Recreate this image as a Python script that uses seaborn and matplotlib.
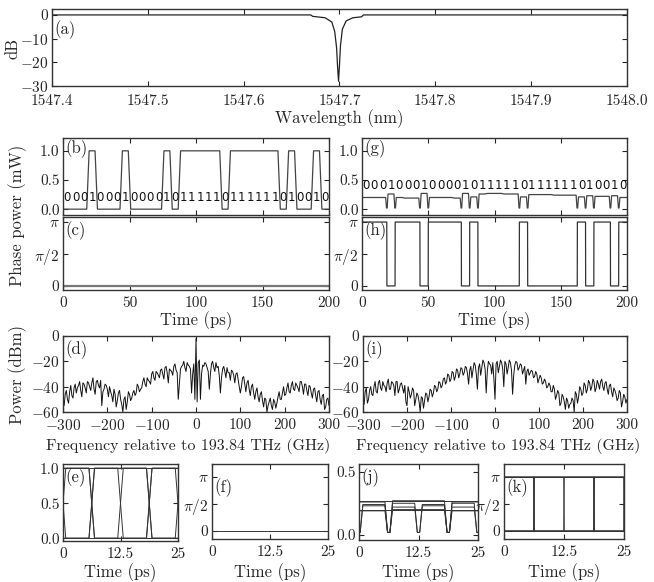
import numpy as np
import pandas as pd
import matplotlib
matplotlib.use("Agg")
import matplotlib.pyplot as plt
import seaborn as sns

# ---- data ----
# (a) filter transmission
wl = [1547.40, 1547.670, 1547.672, 1547.685, 1547.692, 1547.695, 1547.697, 1547.698,
      1547.699, 1547.700, 1547.701, 1547.703, 1547.707, 1547.714, 1547.723, 1547.725, 1548.00]
trans_db = [0, 0, -0.6, -1.2, -3, -7, -14, -22, -28, -21, -13, -6, -2.5, -1.2, -0.8, 0, 0]

# 32-bit pattern over 200 ps
bits = [0, 0, 0, 1, 0, 0, 0, 1, 0, 0, 0, 0, 1, 0, 1, 1, 1, 1, 1, 0, 1, 1, 1, 1, 1, 1, 0, 1, 0, 0, 1, 0]
# (g) converted power level per bit (mW)
g_levels = [0.20, 0.20, 0.20, 0.26, 0.20, 0.19, 0.19, 0.27, 0.20, 0.20, 0.20, 0.19, 0.27, 0.21, 0.26, 0.27,
            0.27, 0.26, 0.26, 0.21, 0.25, 0.25, 0.25, 0.24, 0.24, 0.24, 0.21, 0.23, 0.22, 0.22, 0.23, 0.20]
g_dip = 0.02

# eye diagrams: bit words seen in a 25 ps window (bit before, 4 bits, bit after)
eye_words = [[0, 0, 0, 0, 0, 0], [1, 1, 1, 1, 1, 1], [0, 1, 0, 1, 0, 1],
             [1, 0, 1, 0, 1, 0], [0, 0, 1, 1, 0, 0], [1, 1, 0, 0, 1, 1]]
# (j) power levels (bit 0, bit 1) of each word, mW
j_levels = [(0.20, 0.21), (0.26, 0.27), (0.22, 0.23), (0.24, 0.25), (0.19, 0.20), (0.27, 0.26)]

# (d) / (i) spectra: values every 5 GHz plus the points half-way between
freq = np.arange(-300, 300.1, 2.5)
spec_d = [-52, -46, -50, -44, -47, -41, -45, -39, -43, -37, -41, -36, -40, -37, -42, -36, -39, -35, -44, -38,
          -42, -40, -47, -42, -56, -45, -50, -60, -48, -52, -46, -49, -43, -45, -40, -42, -36, -38, -33, -36,
          -30, -33, -28, -31, -27, -30, -25, -29, -26, -28, -24, -27, -50, -26, -23, -25, -21, -24, -45, -22,
          -2, -21, -50, -23, -21, -25, -42, -22, -25, -21, -24, -45, -26, -28, -25, -29, -27, -31, -30, -34,
          -45, -33, -38, -37, -42, -40, -45, -44, -48, -46, -51, -49, -60, -52, -55, -50, -57, -48, -50, -45,
          -47, -41, -44, -39, -42, -37, -41, -36, -40, -38, -43, -39, -45, -42, -47, -44, -50, -47, -58, -50,
          -55]
spec_d_mid = [-55, -43, -53, -39, -49, -38, -41, -36, -48, -38, -45, -37, -43, -33, -46, -35, -41, -55, -42, -39,
              -48, -44, -52, -46, -51, -43, -54, -50, -58, -44, -51, -45, -47, -38, -44, -41, -33, -40, -35, -38,
              -28, -35, -29, -33, -26, -34, -24, -37, -27, -31, -22, -29, -38, -24, -20, -28, -23, -26, -30, -50,
              -52, -19, -30, -24, -22, -28, -30, -20, -28, -25, -31, -33, -24, -33, -29, -35, -28, -37, -29, -40,
              -40, -32, -44, -35, -47, -38, -50, -41, -52, -44, -56, -50, -55, -49, -58, -52, -53, -44, -50, -40,
              -46, -37, -45, -36, -43, -39, -44, -36, -46, -38, -47, -40, -49, -41, -52, -43, -54, -46, -56, -49]
spec_i = [-50, -44, -53, -43, -46, -40, -44, -37, -41, -36, -40, -37, -42, -36, -39, -36, -45, -38, -41, -39,
          -55, -44, -46, -43, -50, -47, -60, -49, -51, -46, -48, -43, -45, -40, -42, -37, -39, -33, -36, -31,
          -34, -29, -32, -27, -30, -26, -29, -25, -38, -24, -27, -23, -42, -22, -25, -21, -45, -20, -23, -21,
          -50, -20, -24, -21, -40, -22, -25, -21, -46, -23, -21, -25, -23, -27, -38, -26, -29, -28, -32, -30,
          -34, -33, -37, -36, -40, -39, -44, -42, -47, -45, -53, -48, -58, -51, -54, -49, -60, -46, -48, -42,
          -45, -39, -42, -37, -40, -36, -41, -38, -36, -40, -37, -42, -39, -44, -41, -46, -49, -45, -52, -48,
          -50]
spec_i_mid = [-54, -41, -50, -40, -47, -36, -45, -35, -43, -39, -44, -34, -42, -37, -47, -36, -42, -37, -45, -52,
              -40, -49, -41, -55, -45, -52, -48, -57, -45, -52, -42, -48, -39, -44, -36, -41, -34, -38, -30, -36,
              -28, -35, -26, -33, -25, -31, -24, -30, -27, -33, -21, -30, -25, -31, -19, -26, -28, -22, -30, -34,
              -22, -29, -19, -26, -20, -30, -19, -27, -31, -20, -27, -22, -30, -24, -28, -31, -27, -33, -28, -37,
              -31, -38, -34, -41, -37, -44, -39, -50, -43, -55, -46, -52, -49, -57, -53, -51, -44, -53, -40, -47,
              -37, -45, -35, -43, -34, -44, -35, -42, -34, -43, -36, -46, -38, -48, -43, -51, -43, -56, -46, -53]

# ---- style ----
sns.set_style("ticks")
plt.rcParams.update({
    "font.family": "cmr10",
    "mathtext.fontset": "cm",
    "axes.unicode_minus": False,
    "xtick.direction": "in", "ytick.direction": "in",
    "xtick.top": True, "ytick.right": True,
    "xtick.major.size": 3.5, "ytick.major.size": 3.5,
    "xtick.major.pad": 4.5, "ytick.major.pad": 2.5,
    "axes.edgecolor": "#333333", "axes.linewidth": 1.0,
    "font.size": 11,
})

W, H = 654, 582
fig = plt.figure(figsize=(W / 100, H / 100), dpi=100)


def px(x0, y0, x1, y1):
    return [x0 / W, 1 - y1 / H, (x1 - x0) / W, (y1 - y0) / H]


def neg(v):
    return "$-%s$" % str(abs(v)) if v < 0 else str(v)


def tag(ax, s, dx=2, dy=-1):
    ax.annotate(s, (0, 1), xycoords="axes fraction", xytext=(dx, dy), textcoords="offset points",
                ha="left", va="top", fontsize=12)


def label(x, y, s, rot=0, size=12):
    fig.text(x / W, 1 - y / H, s, rotation=rot, ha="center", va="center", fontsize=size)


LC = "#222222"
Tb = 6.25


def waveform(word, levels, ramp, dip=None, t0=0.0):
    # trapezoid / step trace for a bit word; levels[k] is the level of bit k
    t, v = [t0], [levels[0]]
    for k in range(1, len(word)):
        tb = t0 + k * Tb
        if word[k] != word[k - 1]:
            if dip is None:
                t += [tb - ramp, tb + ramp]
                v += [levels[k - 1], levels[k]]
            else:
                t += [tb - ramp, tb - 0.25, tb + 0.25, tb + ramp]
                v += [levels[k - 1], dip, dip, levels[k]]
        elif levels[k] != levels[k - 1]:
            t += [tb - ramp, tb + ramp]
            v += [levels[k - 1], levels[k]]
    t.append(t0 + len(word) * Tb)
    v.append(levels[-1])
    return np.array(t), np.array(v)


tb_, vb_ = waveform(bits, [float(b) for b in bits], 0.9)
tg_, vg_ = waveform(bits, g_levels, 0.9, dip=g_dip)
th_, vh_ = waveform(bits, [np.pi * (1 - b) for b in bits], 0.05)

# ---- (a) ----
ax = fig.add_axes(px(52, 9, 627, 86))
sns.lineplot(x=wl, y=trans_db, estimator=None, sort=False, color=LC, lw=0.9, ax=ax)
ax.set_xlim(1547.4, 1548.0)
ax.set_ylim(-30, 2.5)
ax.set_xticks([1547.4, 1547.5, 1547.6, 1547.7, 1547.8, 1547.9, 1548.0])
ax.set_xticklabels(["1547.4", "1547.5", "1547.6", "1547.7", "1547.8", "1547.9", "1548.0"])
ax.tick_params(axis="x", pad=6)
ax.set_yticks([0, -10, -20, -30])
ax.set_yticklabels([neg(v) for v in [0, -10, -20, -30]])
tag(ax, "(a)", dy=-8)
label(339, 119, "Wavelength (nm)")
label(13, 48, "dB", rot=90)

# ---- (b), (g) power ----
for rect, (tt, vv), lab, ty in [((63, 138, 329, 215), (tb_, vb_), "(b)", 0.2),
                                ((362, 138, 627, 215), (tg_, vg_), "(g)", 0.4)]:
    ax = fig.add_axes(px(*rect))
    sns.lineplot(x=tt, y=vv, estimator=None, sort=False, color="#444444", lw=0.9, ax=ax)
    ax.set_xlim(0, 200)
    ax.set_ylim(-0.1, 1.22)
    ax.set_xticks([0, 50, 100, 150, 200])
    ax.set_xticklabels([])
    ax.set_yticks([0, 0.5, 1.0])
    ax.set_yticklabels(["0.0", "0.5", "1.0"])
    for k, b in enumerate(bits):
        ax.text(k * Tb + Tb / 2, ty, str(b), ha="center", va="center", fontsize=8.5,
                family="DejaVu Sans", color="#111111")
    tag(ax, lab)

# ---- (c), (h) phase ----
for rect, (tt, vv), lab, col, lw in [((63, 217, 329, 290), (np.array([0, 200]), np.array([0, 0])), "(c)", "#777777", 1.6),
                                      ((362, 217, 627, 290), (th_, vh_), "(h)", "#333333", 0.9)]:
    ax = fig.add_axes(px(*rect))
    sns.lineplot(x=tt, y=vv, estimator=None, sort=False, color=col, lw=lw, ax=ax)
    ax.set_xlim(0, 200)
    ax.set_ylim(-0.2, 3.39)
    ax.set_xticks([0, 50, 100, 150, 200])
    ax.set_xticklabels(["0", "50", "100", "150", "200"])
    ax.set_yticks([0, np.pi / 2, np.pi])
    ax.set_yticklabels(["0", r"$\pi/2$", r"$\pi$"])
    tag(ax, lab, dy=-3)
    label((rect[0] + rect[2]) / 2, 321, "Time (ps)")
label(18, 215, "Phase power (mW)", rot=90)

# ---- (d), (i) spectra ----
for rect, sp, mid, lab, cx in [((63, 336, 329, 412), spec_d, spec_d_mid, "(d)", 188),
                               ((363, 336, 627, 412), spec_i, spec_i_mid, "(i)", 498)]:
    vals = np.empty(len(freq))
    vals[0::2] = sp
    vals[1::2] = mid
    ax = fig.add_axes(px(*rect))
    sns.lineplot(x=freq, y=vals, estimator=None, color="#111111", lw=0.7, ax=ax)
    ax.set_xlim(-300, 300)
    ax.set_ylim(-60, 0)
    ax.set_xticks(range(-300, 301, 100))
    ax.set_xticklabels([neg(v) for v in range(-300, 301, 100)])
    ax.set_yticks([0, -20, -40, -60])
    ax.set_yticklabels([neg(v) for v in [0, -20, -40, -60]])
    tag(ax, lab, dy=-3)
    label(cx, 446, "Frequency relative to 193.84 THz (GHz)", size=11.5)
label(18, 374, "Power (dBm)", rot=90)

# ---- eye diagrams (e), (f), (j), (k) ----
eye_e = [waveform(w, [float(b) for b in w], 0.6, t0=-Tb) for w in eye_words]
eye_f = [(np.array([0.0, 25.0]), np.array([0.0, 0.0]))]
eye_j = [waveform(w, [lv[b] for b in w], 0.8, dip=g_dip, t0=-Tb) for w, lv in zip(eye_words, j_levels)]
eye_k = [waveform(w, [np.pi * (1 - b) for b in w], 0.05, t0=-Tb) for w in eye_words]
pi_ticks = ([0, np.pi / 2, np.pi], ["0", r"$\pi/2$", r"$\pi$"])
eyes = [((63, 464, 178, 541), eye_e, "(e)", (-0.04, 1.06), ([0, 0.5, 1.0], ["0.0", "0.5", "1.0"])),
        ((212, 464, 328, 539), eye_f, "(f)", (-0.47, 3.9), pi_ticks),
        ((359, 464, 478, 540), eye_j, "(j)", (-0.04, 0.56), ([0, 0.5], ["0.0", "0.5"])),
        ((504, 464, 624, 539), eye_k, "(k)", (-0.47, 3.9), pi_ticks)]
for rect, traces, lab, yl, (yt, ytl) in eyes:
    ax = fig.add_axes(px(*rect))
    for tt, vv in traces:
        sns.lineplot(x=tt, y=vv, estimator=None, sort=False, color="#333333", lw=0.7, ax=ax)
    ax.set_xlim(0, 25)
    ax.set_ylim(*yl)
    ax.set_xticks([0, 12.5, 25])
    ax.set_xticklabels(["0", "12.5", "25"])
    ax.set_yticks(yt)
    ax.set_yticklabels(ytl)
    tag(ax, lab, dy=-3 if lab in ("(e)", "(j)") else -10)
    label((rect[0] + rect[2]) / 2, 573, "Time (ps)")

fig.savefig("out.png", dpi=100)
